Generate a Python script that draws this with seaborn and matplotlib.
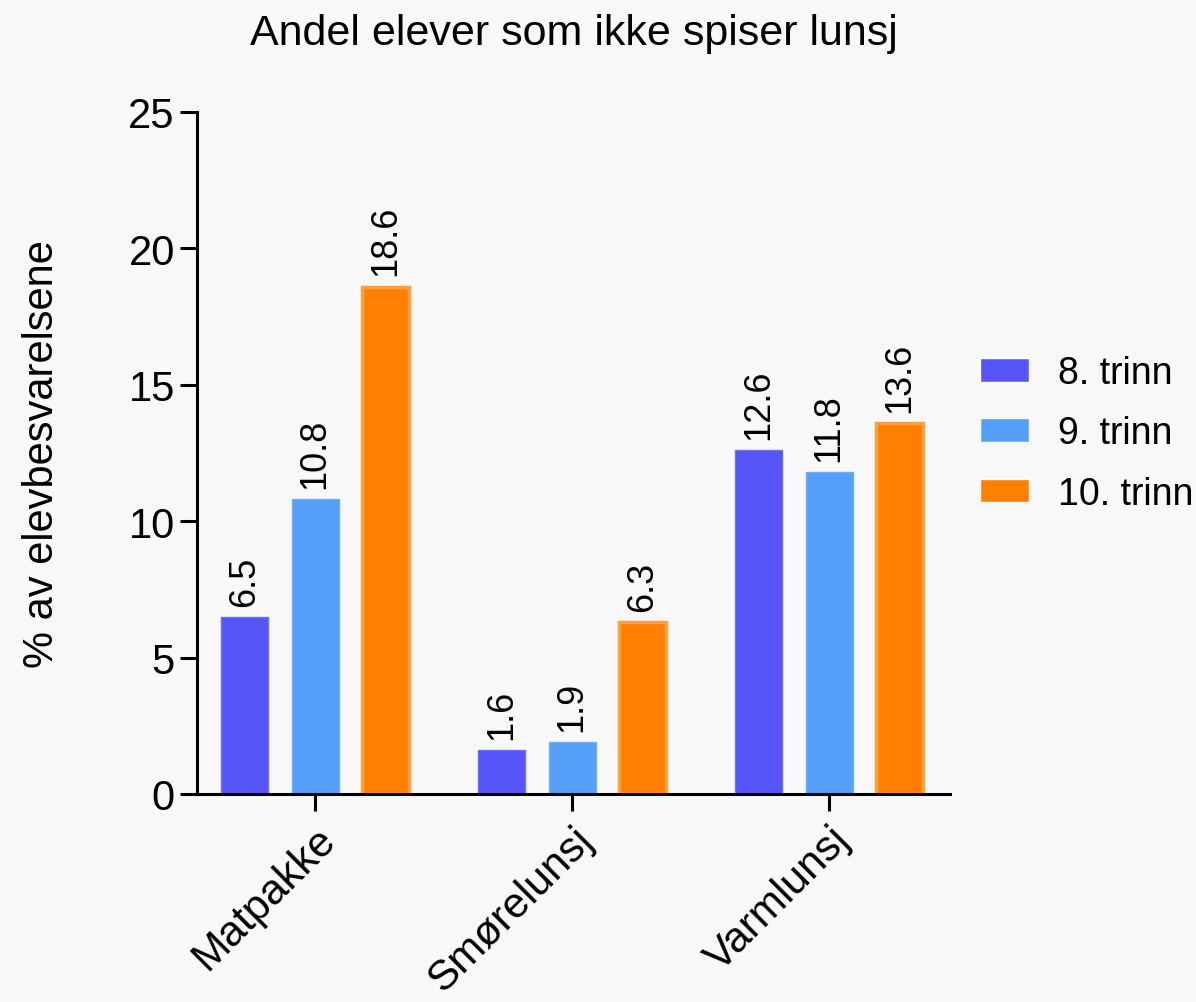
import seaborn as sns
import matplotlib.pyplot as plt
import pandas as pd

categories = ['Matpakke', 'Smørelunsj', 'Varmlunsj']
grades = ['8. trinn', '9. trinn', '10. trinn']
trinn_8 = [6.5, 1.6, 12.6]
trinn_9 = [10.8, 1.9, 11.8]
trinn_10 = [18.6, 6.3, 13.6]

colors = ['#5555FA', '#55A0FA', '#FF8000']
edges = ['#6E6EFA', '#6EAEFA', '#FFA040']

df = pd.DataFrame({
    'kategori': categories * 3,
    'trinn': [g for g in grades for _ in categories],
    'verdi': trinn_8 + trinn_9 + trinn_10,
})

sns.set_style('ticks')
plt.rcParams['font.family'] = ['Liberation Sans', 'DejaVu Sans']
plt.rcParams['text.color'] = 'black'
plt.rcParams['axes.labelcolor'] = 'black'
plt.rcParams['xtick.color'] = 'black'
plt.rcParams['ytick.color'] = 'black'

fig = plt.figure(figsize=(11.96, 10.03), dpi=100, facecolor='#F8F8F8')
ax = fig.add_axes([0.1647, 0.2074, 0.6296, 0.680])
ax.set_facecolor('#F8F8F8')

sns.barplot(data=df, x='kategori', y='verdi', hue='trinn', order=categories,
            hue_order=grades, palette=colors, width=0.822, gap=0.333,
            saturation=1, ax=ax, legend=True)

for cont, ec in zip(ax.containers, edges):
    for bar in cont:
        bar.set_edgecolor(ec)
        bar.set_linewidth(2.5 if ec == '#FFA040' else 1.0)
    ax.bar_label(cont, fmt='%.1f', rotation=90, padding=8, fontsize=26)

ax.set_xlim(-0.46, 2.47)
ax.set_ylim(0, 25)
ax.set_yticks([0, 5, 10, 15, 20, 25])
ax.set_xlabel('')
ax.set_ylabel('% av elevbesvarelsene', fontsize=30, labelpad=48)
ax.set_title('Andel elever som ikke spiser lunsj', fontsize=31, pad=49)

ax.tick_params(axis='both', length=12, width=2.2, labelsize=30, color='black')
ax.tick_params(axis='y', pad=4)
ax.tick_params(axis='x', pad=6, labelsize=30.5)
plt.setp(ax.get_xticklabels(), rotation=45, ha='right', rotation_mode='anchor')
for s in ['top', 'right']:
    ax.spines[s].set_visible(False)
for s in ['left', 'bottom']:
    ax.spines[s].set_linewidth(2.2)
    ax.spines[s].set_color('black')

handles, labels = ax.get_legend_handles_labels()
ax.get_legend().remove()
fig.legend(handles, labels, loc='center left', bbox_to_anchor=(0.819, 0.567),
           frameon=False, fontsize=27, handlelength=1.33, handleheight=0.6,
           labelspacing=0.65, handletextpad=0.75, borderpad=0, borderaxespad=0)

fig.savefig('out.png', dpi=100, facecolor=fig.get_facecolor())
